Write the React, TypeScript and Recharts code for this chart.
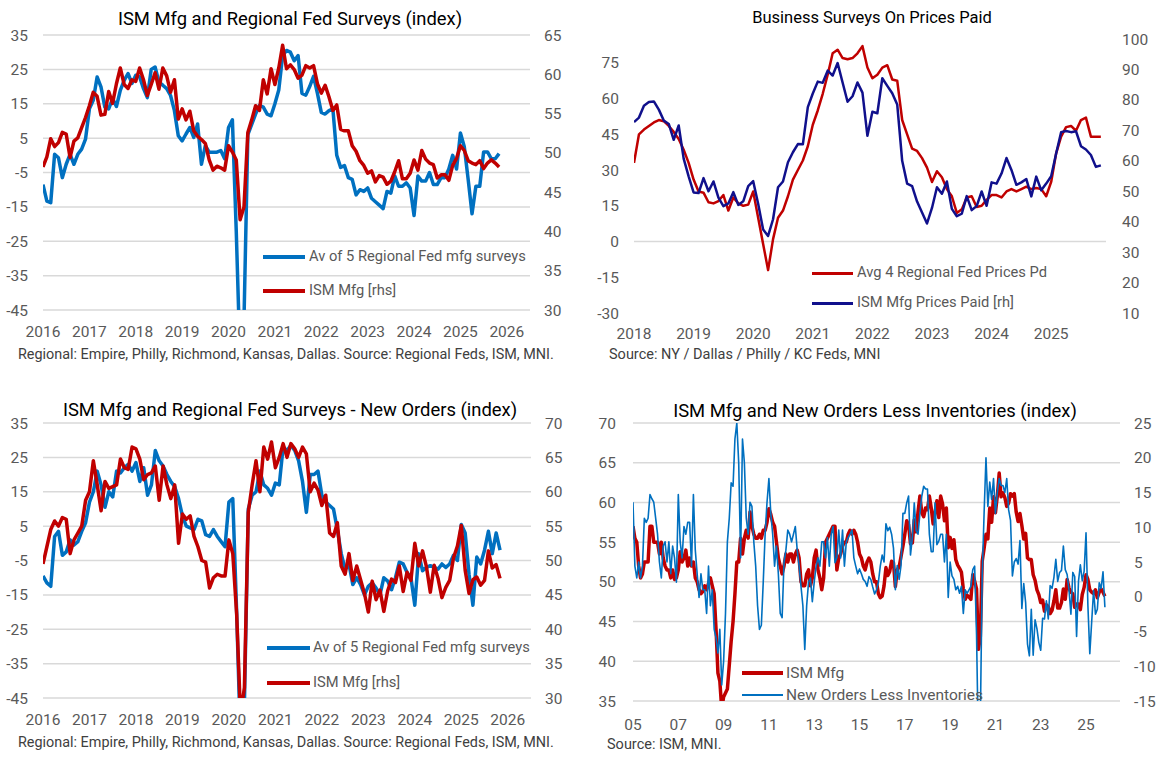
import React from 'react';
import { LineChart, Line, XAxis, YAxis, CartesianGrid, ReferenceLine } from 'recharts';

const FONT = 'Roboto, "Liberation Sans", Arial, sans-serif';
const GRID = '#D9D9D9';
const BLUE = '#0070C0';
const RED = '#C00000';
const NAVY = '#10108C';
const TICK = { fill: '#595959', fontSize: 15.5, fontFamily: FONT };

// ISM Manufacturing PMI, monthly Jan 2005 - Nov 2025
const ismMfg = [
  57, 55.5, 55, 52, 50.5, 51, 52.5, 52.5, 52.5, 57, 57, 55,
  55, 55, 53.5, 55, 53, 52, 51.5, 51.5, 50.5, 51.5, 50.3, 50.5,
  51.5, 53.8, 52.5, 53, 54, 52, 53, 52, 52.5, 50.5, 50, 49,
  48.5, 48.8, 49.5, 49, 49.8, 50.5, 49.5, 48.5, 44, 38.5, 37.5, 34,
  35.5, 36, 36.5, 39.5, 42.5, 45, 48.5, 52.5, 52.5, 55.5, 53.5, 55.5,
  56.5, 55.5, 58.8, 57, 56, 55.5, 55.5, 56, 55.5, 56.5, 56.5, 57.5,
  59.2, 58.5, 57.5, 57, 55, 53, 52, 51, 52, 53.5, 52.5, 53.5,
  53.5, 52.5, 53.5, 54, 53, 50, 49.5, 49.5, 51, 51.5, 49.5, 50.5,
  53, 54, 51.5, 50.5, 49, 50.5, 55, 55.5, 56, 56.5, 57, 57,
  51.5, 53, 53.5, 54.5, 55, 55, 56, 56.5, 56, 56.5, 56, 55,
  53.5, 53, 52, 51.5, 52.5, 53, 52.5, 51, 50, 50, 48.5, 48,
  48.2, 49.5, 51.8, 50.8, 51.3, 52.6, 52.4, 49.4, 51.5, 51.9, 53.2, 54.5,
  56.0, 57.7, 57.2, 54.8, 54.9, 57.8, 56.3, 58.8, 60.8, 58.7, 58.2, 59.3,
  59.1, 60.8, 59.3, 57.3, 58.7, 60.2, 58.1, 60.8, 59.8, 57.7, 59.3, 54.3,
  55.6, 54.2, 55.3, 52.8, 52.1, 51.7, 51.2, 49.1, 47.8, 48.3, 48.1, 47.8,
  50.9, 50.1, 49.1, 41.5, 43.1, 52.6, 54.2, 56.0, 55.4, 59.3, 57.5, 60.7,
  58.7, 60.8, 63.7, 60.7, 61.2, 60.6, 59.5, 59.9, 61.1, 60.8, 61.1, 58.8,
  57.6, 58.6, 57.1, 55.4, 56.1, 53.0, 52.8, 52.8, 50.9, 50.2, 49.0, 48.4,
  47.4, 47.7, 46.3, 47.1, 46.9, 46.0, 46.4, 47.6, 49.0, 46.7, 46.7, 47.4,
  49.1, 47.8, 50.3, 49.2, 48.7, 48.5, 46.8, 47.2, 47.2, 46.5, 48.4, 49.3,
  50.9, 50.3, 49.0, 48.7, 48.5, 49.0, 48.0, 48.7, 49.1, 48.7, 48.2,
];

// ISM New Orders less Inventories, monthly Jan 2005 - Nov 2025
const newOrdersLessInv = [
  13.6, 4.4, 2.7, 5, 2.7, 4.4, 11.3, 10.7, 11.3, 14.7, 14.1, 13.6,
  11.3, 9, 5, 2.7, 7.3, 7.9, 5, 7.9, 3.3, 7.3, 5.6, 2.1,
  14.7, 7.9, 5.6, 10.1, 9, 10.7, 10.7, 4.4, 14.7, 6.7, 3.3, -0.1,
  3.3, 1, 1, -2.4, 4.4, -1.3, 1, -4.7, -5.9, -8.1, -4.7, -12.7,
  -9.3, -2.4, 7.9, 11.3, 16.4, 15.9, 22.7, 25, 19.3, 5.6, 22.7, 19.3,
  11.3, 9, 13.6, 13, 7.9, 4.4, -1.3, -4.7, -4.1, 2.1, 9, 13.6,
  17, 12, 9, 4.4, 7.3, 3.3, -2.4, -3, 5, 6.7, 9.6, 9,
  7.9, 9, 10.1, 6.7, 4.4, 1.5, -1.3, -7.6, -1.3, 2.1, 2.7, -0.7,
  2.1, 4.4, 5.6, 4.4, 7.9, 7.9, 5.6, 8.5, 4.4, 9, 10.1, 4.9,
  5.6, 9.6, 5.6, 9.6, 4.4, 7.9, 8.5, 9, 9.6, 5.6, 4.4, 3.3,
  4, 3.3, 2.5, 2.2, 1.5, 2.9, 2.5, 1.4, 0.4, 1, 2.1, 4.4,
  6, 5, 10.5, 9.5, 10, 9, 7, 1, 4.5, 2.5, 4.5, 12,
  12, 13.5, 14.5, 6, 8.5, 13.5, 9.5, 9, 12, 14.5, 15.9, 15.5,
  15.5, 9, 6.5, 6.5, 13.5, 7.5, 8, 9, 9, 5, 9, -0.1,
  5, 3, 2.5, 1, 1.5, 0.5, 1.5, -2.4, 1, 0.5, 1, 1.5,
  3.9, 4.4, -5.5, -22, -18, 3, 12, 20, 13, 16.5, 14, 17,
  12, 15, 17, 16, 16, 15, 17, 12.5, 11, 3, 5, 5.5,
  4.7, 8.1, -1.7, 1.9, -0.8, -6.8, -8.5, -1.8, -8.4, -3.3, -4.6, -6.6,
  -7.7, -3.1, -3.2, -0.6, -3.2, 1.6, 1.2, 2.8, 5.4, 2.2, 3.5, 3.8,
  7.3, 3.9, 3.2, 0.9, -2.5, 3.5, 2.9, -5.7, 2.2, 4.6, 2.3, 3.7,
  9.2, -1.3, -8.2, -3.6, 0.9, -2.5, -1.8, 2, 1.2, 3.6, -1.5,
];

// Average of 5 regional Fed mfg surveys (general activity), Jan 2016 - Nov 2025
const regionalActivity = [
  -8.5, -13.3, -13.8, 0.3, -0.7, -6.5, -2.6, 0.3, -2.6, 0.3, 1.8, 4.7,
  13.5, 16, 22.8, 19.9, 14, 13.5, 16.5, 14.2, 18.9, 21.8, 23.8, 20.9,
  23.3, 22.8, 19.4, 16.8, 25, 25.7, 21.3, 20.4, 19.4, 17.4, 13, 5.7,
  4.2, 6.2, 8.1, 5.2, 9.1, -2.6, 2.8, 0.9, 0.9, 0.9, 1.4, -1.0,
  8.1, 10.3, -22, -60, -48, 6, 9, 12, 14.5, 14, 12, 11.5,
  15, 19, 29, 30.5, 30, 27.5, 29, 18, 17.5, 20, 23, 18,
  12.5, 12, 13, 13.5, 0, -3.5, -3, -6.5, -7, -11.5, -10, -10.5,
  -9.5, -12.5, -13.5, -14.5, -15.5, -10.5, -11, -6, -9, -9, -8, -9.5,
  -17.5, -6, -7.5, -7.5, -5, -8.5, -8.5, -6.5, -6.5, -4, 0, -4,
  6.5, 2.5, -7, -17, -9, -9, 1, 1, -1, -1, 0.5,
];

// Average of 5 regional Fed new orders, Jan 2016 - Nov 2025
const regionalNewOrders = [
  -9.5, -11.5, -12.5, 2, 3.5, -3.5, -2.5, 1, -0.5, 0.5, 3.5, 6,
  12, 15, 21, 17, 10.5, 15, 13.5, 21, 20.5, 22, 23, 21,
  23.5, 18, 22, 14, 17, 27, 24, 22.5, 20, 18, 16.5, 13,
  8, 5, 4.5, 4, 7, 6.5, 2.5, 2, 4, 2, 0.5, -1,
  12, 13, -20, -58, -47, 10, 14, 15, 21, 17, 16, 14,
  17.5, 17, 28, 27, 28.5, 27, 24, 18, 9, 20, 20, 21,
  14, 12, 11, 10, 4, -3, -7.5, -6, -12, -10, -12, -15,
  -12.5, -11.5, -13, -15, -10, -11, -13.5, -10, -5.5, -6, -8.5, -10,
  -18, -3, -8, -7, -6.5, -7, -7.5, -6, -7, -6, -3.5, -5,
  5.5, 3, -9, -18, -4, -6, -2, 3.5, -3, 3, -2,
];

// ISM Mfg New Orders index, Jan 2016 - Nov 2025
const ismNewOrders = [
  49.5, 52, 54.5, 55.75, 55, 56.25, 56, 51, 53, 54, 55, 58.75,
  60, 64.5, 61, 57.25, 61.5, 60.5, 60.75, 61, 64.75, 63.5, 63.25, 66.5,
  66.25, 64.75, 61.75, 62.5, 62.75, 63.75, 58.75, 63.75, 61, 59, 61, 52.5,
  56.75, 56, 56.5, 53.5, 52, 50, 49.75, 46, 47.5, 48, 47.75, 47.75,
  53, 51, 42.25, 27.5, 31.5, 57, 61, 64.5, 60, 66.5, 64.75, 67.25,
  63.5, 65, 67, 65, 67, 66.25, 65, 66.5, 65.5, 60, 61.25, 60.25,
  58, 59.5, 54, 53.5, 55.5, 49.2, 48, 51, 47.1, 49.2, 47.2, 45.2,
  42.5, 47, 44.3, 45.7, 42.6, 45.6, 47.3, 46.8, 49.2, 45.5, 48.3, 47.1,
  52.5, 49.2, 51.4, 49.1, 45.4, 49.3, 47.4, 44.6, 46.1, 47.1, 50.4, 52.1,
  55.1, 48.6, 45.2, 47.2, 47.6, 46.4, 47.1, 51.4, 48.9, 49.4, 47.4,
];

// Average of 4 regional Fed prices paid, Jan 2018 - Nov 2025
const fedPricesPaid = [
  33, 45, 47, 48.5, 50, 51, 50.5, 48.5, 46, 43, 38.5, 33,
  26, 21, 20.5, 16.5, 16, 17, 19.5, 13, 18.5, 16, 15, 15.5,
  21, 10, -1, -12, 1, 10, 13, 19, 26, 30, 34, 40,
  49, 55, 62, 70, 79, 80.5, 77, 76.5, 77, 79, 82, 73,
  68.5, 70, 73, 74, 68, 67.5, 51, 45, 39, 38, 35, 31,
  25, 29.5, 27, 22, 19, 12, 13.5, 18.5, 19, 14.5, 15, 17.5,
  19.5, 19.5, 18.5, 21, 22, 21, 22, 23, 22, 22.5, 22, 19,
  25, 37, 44, 48, 48.5, 46.5, 51, 52, 44, 44, 44,
];

// ISM Mfg Prices Paid, Jan 2018 - Nov 2025
const ismPricesPaid = [
  72.7, 74.2, 78.1, 79.3, 79.5, 76.8, 73.2, 72.1, 66.9, 71.6, 60.7, 54.9,
  49.6, 49.4, 54.3, 50.0, 53.2, 47.9, 45.1, 46.0, 49.7, 45.5, 46.7, 51.7,
  53.3, 45.9, 37.4, 35.3, 40.8, 51.3, 53.2, 59.5, 62.8, 65.5, 65.4, 77.6,
  82.1, 86.0, 85.6, 89.6, 88.0, 92.1, 85.7, 79.4, 81.2, 85.7, 82.4, 68.2,
  76.1, 75.6, 87.1, 84.6, 82.2, 78.5, 60.0, 52.5, 51.7, 46.6, 43.0, 39.4,
  44.5, 51.3, 49.2, 53.2, 44.2, 41.8, 42.6, 48.4, 43.8, 45.1, 49.9, 45.2,
  52.9, 52.5, 55.8, 60.9, 57.0, 52.1, 52.9, 54.0, 48.3, 54.8, 50.3, 52.5,
  54.9, 62.4, 69.4, 69.8, 69.4, 69.7, 64.8, 63.7, 61.9, 58.0, 58.5,
];

const years16 = [2016, 2017, 2018, 2019, 2020, 2021, 2022, 2023, 2024, 2025, 2026];
const years18 = [2018, 2019, 2020, 2021, 2022, 2023, 2024, 2025];
const years05 = [2005, 2007, 2009, 2011, 2013, 2015, 2017, 2019, 2021, 2023, 2025];
const tlLeftTicks = [-45, -35, -25, -15, -5, 5, 15, 25, 35];
const tlRightTicks = [30, 35, 40, 45, 50, 55, 60, 65];
const blRightTicks = [30, 35, 40, 45, 50, 55, 60, 65, 70];
const trLeftTicks = [-30, -15, 0, 15, 30, 45, 60, 75];
const trRightTicks = [10, 20, 30, 40, 50, 60, 70, 80, 90, 100];
const brLeftTicks = [35, 40, 45, 50, 55, 60, 65, 70];
const brRightTicks = [-15, -10, -5, 0, 5, 10, 15, 20, 25];

const tlRows = regionalActivity.map((v, i) => ({ t: 2016 + i / 12, reg: v, ism: ismMfg[132 + i] }));
const blRows = regionalNewOrders.map((v, i) => ({ t: 2016 + i / 12, reg: v, ism: ismNewOrders[i] }));
const trRows = fedPricesPaid.map((v, i) => ({ t: 2018 + i / 12, fed: v, ism: ismPricesPaid[i] }));
const brRows = ismMfg.map((v, i) => ({ t: 2005 + i / 12, ism: v, noli: newOrdersLessInv[i] }));

function Label({ x, y, size, color = '#000', children, center = false }: any) {
  const style: React.CSSProperties = {
    position: 'absolute',
    top: y - size * 0.6,
    fontSize: size,
    lineHeight: `${size * 1.2}px`,
    fontFamily: FONT,
    color,
    whiteSpace: 'nowrap',
  };
  if (center) {
    style.left = x - 300;
    style.width = 600;
    style.textAlign = 'center';
  } else {
    style.left = x;
  }
  return <div style={style}>{children}</div>;
}

function LegendLine({ x1, x2, y, color, w }: any) {
  return (
    <div
      style={{ position: 'absolute', left: x1, top: y - w / 2, width: x2 - x1, height: w, background: color }}
    />
  );
}

const axisCommon = { tickLine: false, axisLine: false, tickSize: 0, tick: TICK, allowDataOverflow: true } as const;

export default function App() {
  return (
    <div style={{ position: 'absolute', left: 0, top: 0, width: 1158, height: 763, background: '#fff', overflow: 'hidden' }}>
      {/* Top-left */}
      <div style={{ position: 'absolute', left: 0, top: 0 }}>
        <LineChart width={579} height={380} data={tlRows} margin={{ top: 35, right: 0, bottom: 40, left: 0 }}>
          <CartesianGrid yAxisId="l" vertical={false} stroke={GRID} strokeWidth={1.5} />
          <XAxis dataKey="t" type="number" domain={[2016, 2026.5]} ticks={years16} interval={0} height={30} tickMargin={16} {...axisCommon} />
          <YAxis yAxisId="l" domain={[-45, 35]} ticks={tlLeftTicks} interval={0} width={43} tickMargin={15} {...axisCommon} />
          <YAxis yAxisId="r" orientation="right" domain={[30, 65]} ticks={tlRightTicks} interval={0} width={49} tickMargin={14} {...axisCommon} />
          <Line yAxisId="l" dataKey="reg" stroke={BLUE} strokeWidth={3.5} dot={false} isAnimationActive={false} strokeLinejoin="round" />
          <Line yAxisId="r" dataKey="ism" stroke={RED} strokeWidth={3.5} dot={false} isAnimationActive={false} strokeLinejoin="round" />
        </LineChart>
      </div>

      {/* Top-right */}
      <div style={{ position: 'absolute', left: 579, top: 0 }}>
        <LineChart width={579} height={380} data={trRows} margin={{ top: 39, right: 0, bottom: 37, left: 0 }}>
          <XAxis dataKey="t" type="number" domain={[2018, 2025.92]} ticks={years18} interval={0} height={30} tickMargin={15} {...axisCommon} />
          <YAxis yAxisId="l" domain={[-30, 85]} ticks={trLeftTicks} interval={0} width={55} tickMargin={15} {...axisCommon} />
          <YAxis yAxisId="r" orientation="right" domain={[10, 100]} ticks={trRightTicks} interval={0} width={52} tickMargin={16} {...axisCommon} />
          <ReferenceLine yAxisId="l" y={0} stroke={GRID} strokeWidth={1.5} />
          <Line yAxisId="l" dataKey="fed" stroke={RED} strokeWidth={2.5} dot={false} isAnimationActive={false} strokeLinejoin="round" />
          <Line yAxisId="r" dataKey="ism" stroke={NAVY} strokeWidth={2.5} dot={false} isAnimationActive={false} strokeLinejoin="round" />
        </LineChart>
      </div>

      {/* Bottom-left */}
      <div style={{ position: 'absolute', left: 0, top: 380 }}>
        <LineChart width={579} height={383} data={blRows} margin={{ top: 43, right: 0, bottom: 35, left: 0 }}>
          <CartesianGrid yAxisId="l" vertical={false} stroke={GRID} strokeWidth={1.5} />
          <XAxis dataKey="t" type="number" domain={[2016, 2026.5]} ticks={years16} interval={0} height={30} tickMargin={16} {...axisCommon} />
          <YAxis yAxisId="l" domain={[-45, 35]} ticks={tlLeftTicks} interval={0} width={43} tickMargin={15} {...axisCommon} />
          <YAxis yAxisId="r" orientation="right" domain={[30, 70]} ticks={blRightTicks} interval={0} width={48} tickMargin={14} {...axisCommon} />
          <Line yAxisId="l" dataKey="reg" stroke={BLUE} strokeWidth={3.5} dot={false} isAnimationActive={false} strokeLinejoin="round" />
          <Line yAxisId="r" dataKey="ism" stroke={RED} strokeWidth={3.5} dot={false} isAnimationActive={false} strokeLinejoin="round" />
        </LineChart>
      </div>

      {/* Bottom-right */}
      <div style={{ position: 'absolute', left: 579, top: 380 }}>
        <LineChart width={579} height={383} data={brRows} margin={{ top: 43, right: 0, bottom: 32, left: 0 }}>
          <CartesianGrid yAxisId="l" vertical={false} stroke={GRID} strokeWidth={1.5} />
          <XAxis
            dataKey="t"
            type="number"
            domain={[2005, 2026.5]}
            ticks={years05}
            interval={0}
            height={30}
            tickMargin={18}
            tickFormatter={(v: number) => String(v).slice(2)}
            {...axisCommon}
          />
          <YAxis yAxisId="l" domain={[35, 70]} ticks={brLeftTicks} interval={0} width={54} tickMargin={17} {...axisCommon} />
          <YAxis yAxisId="r" orientation="right" domain={[-15, 25]} ticks={brRightTicks} interval={0} width={38} tickMargin={14} {...axisCommon} />
          <Line yAxisId="l" dataKey="ism" stroke={RED} strokeWidth={3.5} dot={false} isAnimationActive={false} strokeLinejoin="round" />
          <Line yAxisId="r" dataKey="noli" stroke={BLUE} strokeWidth={1.6} dot={false} isAnimationActive={false} strokeLinejoin="round" />
        </LineChart>
      </div>

      {/* Titles */}
      <Label x={290} y={19} size={18.4} center>ISM Mfg and Regional Fed Surveys (index)</Label>
      <Label x={872} y={18} size={16.5} center>Business Surveys On Prices Paid</Label>
      <Label x={290} y={410} size={18.4} center>ISM Mfg and Regional Fed Surveys - New Orders (index)</Label>
      <Label x={875} y={411} size={18.4} center>ISM Mfg and New Orders Less Inventories (index)</Label>

      {/* Footnotes */}
      <Label x={18} y={355} size={14.4} color="#404040">Regional: Empire, Philly, Richmond, Kansas, Dallas. Source: Regional Feds, ISM, MNI.</Label>
      <Label x={609} y={355} size={14.5} color="#404040">Source: NY / Dallas / Philly / KC Feds, MNI</Label>
      <Label x={18} y={743} size={14.4} color="#404040">Regional: Empire, Philly, Richmond, Kansas, Dallas. Source: Regional Feds, ISM, MNI.</Label>
      <Label x={607} y={745} size={14.5} color="#404040">Source: ISM, MNI.</Label>

      {/* Legends */}
      <LegendLine x1={263} x2={305} y={257} color={BLUE} w={4} />
      <Label x={309} y={257} size={14.7} color="#595959">Av of 5 Regional Fed mfg surveys</Label>
      <LegendLine x1={263} x2={305} y={291} color={RED} w={4} />
      <Label x={309} y={291} size={14.7} color="#595959">ISM Mfg [rhs]</Label>

      <LegendLine x1={812} x2={853} y={273} color={RED} w={3} />
      <Label x={857} y={273} size={14.7} color="#595959">Avg 4 Regional Fed Prices Pd</Label>
      <LegendLine x1={812} x2={853} y={303} color={NAVY} w={3} />
      <Label x={857} y={303} size={14.7} color="#595959">ISM Mfg Prices Paid [rh]</Label>

      <LegendLine x1={267} x2={310} y={648} color={BLUE} w={4} />
      <Label x={313} y={648} size={14.7} color="#595959">Av of 5 Regional Fed mfg surveys</Label>
      <LegendLine x1={267} x2={310} y={683} color={RED} w={4} />
      <Label x={313} y={683} size={14.7} color="#595959">ISM Mfg [rhs]</Label>

      <LegendLine x1={742} x2={783} y={673} color={RED} w={4} />
      <Label x={786} y={673} size={15.5} color="#595959">ISM Mfg</Label>
      <LegendLine x1={742} x2={783} y={695} color={BLUE} w={2} />
      <Label x={786} y={695} size={15.5} color="#595959">New Orders Less Inventories</Label>
    </div>
  );
}
